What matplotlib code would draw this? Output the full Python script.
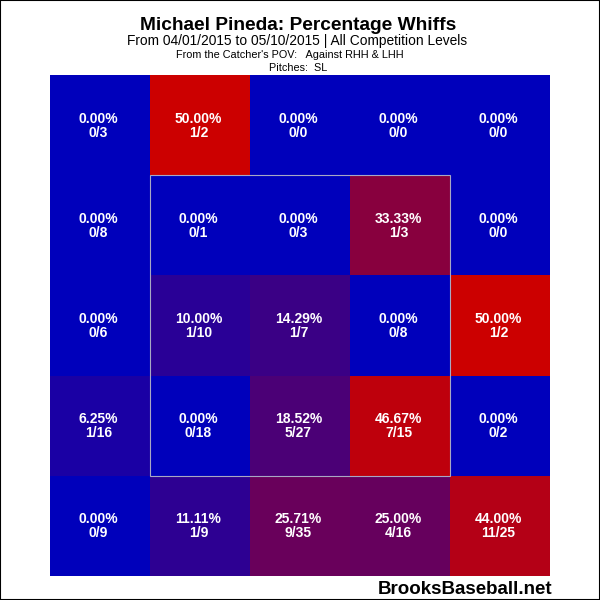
import numpy as np
import matplotlib
matplotlib.use('Agg')
import matplotlib.pyplot as plt
from matplotlib.colors import LinearSegmentedColormap
from matplotlib.patches import Rectangle

plt.rcParams['font.family'] = ['Liberation Sans', 'DejaVu Sans']

# whiffs and pitches per zone, top row first
whiffs = [[0, 1, 0, 0, 0],
          [0, 0, 0, 1, 0],
          [0, 1, 1, 0, 1],
          [1, 0, 5, 7, 0],
          [0, 1, 9, 4, 11]]
pitches = [[3, 2, 0, 0, 0],
           [8, 1, 3, 3, 0],
           [6, 10, 7, 8, 2],
           [16, 18, 27, 15, 2],
           [9, 9, 35, 16, 25]]

title = 'Michael Pineda: Percentage Whiffs'
subtitle = 'From 04/01/2015 to 05/10/2015 | All Competition Levels'
pov_line = "From the Catcher's POV:   Against RHH & LHH"
pitch_line = 'Pitches:  SL'
credit = 'BrooksBaseball.net'

whiffs = np.array(whiffs, dtype=float)
pitches = np.array(pitches, dtype=float)
pct = np.divide(whiffs, pitches, out=np.zeros_like(whiffs), where=pitches > 0) * 100

cmap = LinearSegmentedColormap.from_list('whiff', ['#0000bb', '#cc0000'])

fig = plt.figure(figsize=(6, 6), dpi=100, facecolor='white')
ax = fig.add_axes([50 / 600, 1 - 576 / 600, 500 / 600, 501 / 600])
ax.pcolormesh(np.arange(6), np.arange(6), pct[::-1], cmap=cmap, vmin=0, vmax=50)
ax.set_xlim(0, 5)
ax.set_ylim(0, 5)
ax.axis('off')

# strike zone
ax.add_patch(Rectangle((1, 1), 3, 3, fill=False, edgecolor='#a8a8c4', linewidth=0.8))

for r in range(5):
    for c in range(5):
        y = 4.5 - r
        ax.text(c + 0.485, y + 0.065, '%.2f%%' % pct[r, c], color='white', weight='bold',
                fontsize=10, ha='center', va='center')
        ax.text(c + 0.485, y - 0.075, '%d/%d' % (whiffs[r, c], pitches[r, c]), color='white',
                weight='bold', fontsize=10, ha='center', va='center')

fig.text(298 / 600, 1 - 25 / 600, title, fontsize=13.8, weight='bold', ha='center', va='center')
fig.text(297 / 600, 1 - 41 / 600, subtitle, fontsize=9.9, ha='center', va='center')
fig.text(290 / 600, 1 - 55 / 600, pov_line, fontsize=7.8, ha='center', va='center')
fig.text(298 / 600, 1 - 68 / 600, pitch_line, fontsize=7.8, ha='center', va='center')
fig.text(465 / 600, 1 - 590 / 600, credit, fontsize=13.5, weight='bold', ha='center', va='center')

# image border
fig.add_artist(Rectangle((0, 0), 1, 1, transform=fig.transFigure, fill=False,
                         edgecolor='black', linewidth=1.5))

fig.savefig('out.png', dpi=100)
